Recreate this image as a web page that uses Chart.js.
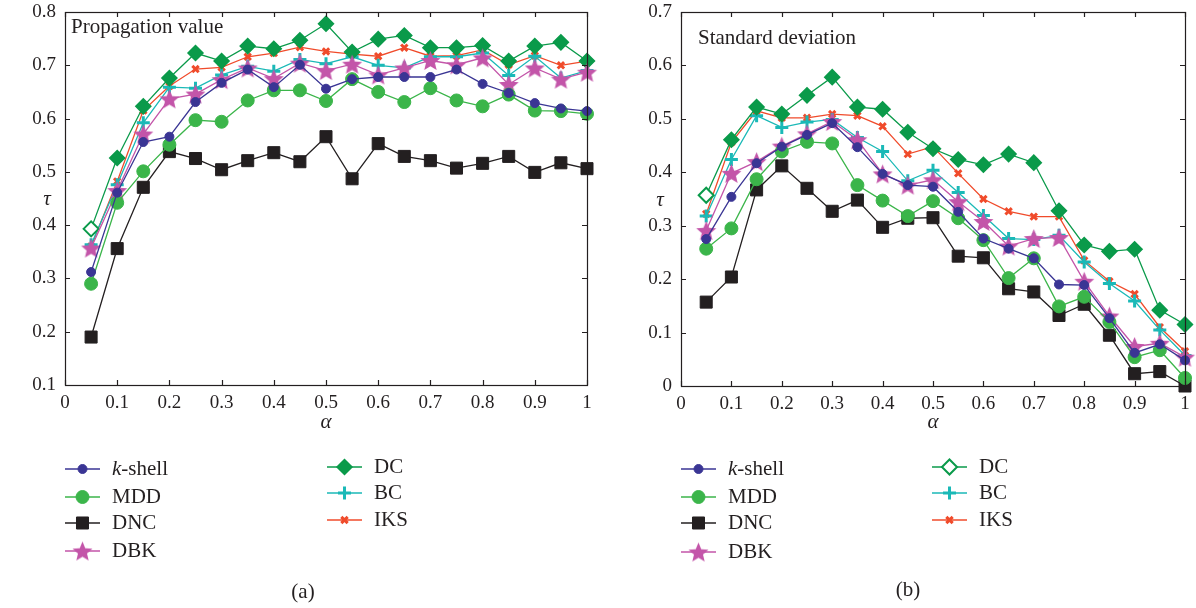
<!DOCTYPE html>
<html>
<head>
<meta charset="utf-8">
<script src="https://cdn.jsdelivr.net/npm/chart.js@4.4.0/dist/chart.umd.min.js"></script>
<style>
  html, body { margin: 0; padding: 0; background: #fff; }
  .box { position: absolute; top: 0; width: 598px; height: 608px; }
</style>
</head>
<body>
<div class="box" style="left:0"><canvas id="chartA"></canvas></div>
<div class="box" style="left:598px"><canvas id="chartB"></canvas></div>
<script>
// x values (alpha)
const alpha = [0.05, 0.1, 0.15, 0.2, 0.25, 0.3, 0.35, 0.4, 0.45, 0.5,
               0.55, 0.6, 0.65, 0.7, 0.75, 0.8, 0.85, 0.9, 0.95, 1.0];
const seriesNames = ['k-shell', 'MDD', 'DNC', 'DBK', 'DC', 'BC', 'IKS'];

// (a) propagation value
const propKshell = [0.312, 0.461, 0.556, 0.566, 0.631, 0.667, 0.692, 0.659, 0.701, 0.656, 0.674, 0.678, 0.678, 0.678, 0.692, 0.665, 0.648, 0.629, 0.619, 0.614];
const propMDD    = [0.290, 0.442, 0.501, 0.551, 0.597, 0.594, 0.634, 0.653, 0.653, 0.633, 0.674, 0.650, 0.631, 0.657, 0.634, 0.623, 0.645, 0.615, 0.614, 0.609];
const propDNC    = [0.190, 0.356, 0.471, 0.538, 0.525, 0.504, 0.521, 0.536, 0.519, 0.566, 0.487, 0.553, 0.529, 0.521, 0.507, 0.516, 0.529, 0.499, 0.517, 0.506];
const propDBK    = [0.357, 0.465, 0.571, 0.637, 0.646, 0.673, 0.695, 0.675, 0.704, 0.690, 0.702, 0.682, 0.695, 0.709, 0.701, 0.714, 0.664, 0.695, 0.674, 0.687];
const propDC     = [0.393, 0.526, 0.623, 0.676, 0.723, 0.708, 0.736, 0.731, 0.747, 0.778, 0.725, 0.749, 0.756, 0.733, 0.733, 0.737, 0.708, 0.736, 0.743, 0.708];
const propBC     = [0.363, 0.476, 0.592, 0.659, 0.657, 0.682, 0.698, 0.689, 0.711, 0.703, 0.716, 0.700, 0.695, 0.716, 0.716, 0.723, 0.681, 0.717, 0.676, 0.690];
const propIKS    = [0.360, 0.482, 0.615, 0.661, 0.693, 0.696, 0.716, 0.723, 0.734, 0.726, 0.721, 0.717, 0.733, 0.717, 0.718, 0.729, 0.701, 0.718, 0.700, 0.708];

// (b) standard deviation
const stdKshell = [0.275, 0.354, 0.417, 0.448, 0.470, 0.492, 0.447, 0.397, 0.376, 0.373, 0.326, 0.276, 0.257, 0.239, 0.190, 0.189, 0.127, 0.062, 0.078, 0.048];
const stdMDD    = [0.257, 0.295, 0.387, 0.439, 0.457, 0.454, 0.376, 0.347, 0.318, 0.346, 0.314, 0.273, 0.202, 0.239, 0.149, 0.167, 0.120, 0.054, 0.067, 0.015];
const stdDNC    = [0.157, 0.204, 0.367, 0.412, 0.370, 0.327, 0.348, 0.297, 0.314, 0.315, 0.243, 0.240, 0.182, 0.176, 0.132, 0.153, 0.095, 0.023, 0.027, 0.000];
const stdDBK    = [0.291, 0.398, 0.420, 0.449, 0.472, 0.495, 0.461, 0.397, 0.376, 0.386, 0.345, 0.308, 0.262, 0.276, 0.278, 0.196, 0.131, 0.074, 0.080, 0.054];
const stdDC     = [0.357, 0.461, 0.522, 0.509, 0.544, 0.578, 0.522, 0.518, 0.475, 0.444, 0.424, 0.414, 0.434, 0.418, 0.328, 0.264, 0.252, 0.256, 0.142, 0.115];
const stdBC     = [0.318, 0.424, 0.506, 0.484, 0.494, 0.499, 0.465, 0.439, 0.384, 0.404, 0.362, 0.319, 0.276, 0.274, 0.282, 0.232, 0.192, 0.159, 0.105, 0.057];
const stdIKS    = [0.322, 0.456, 0.515, 0.502, 0.502, 0.509, 0.506, 0.486, 0.434, 0.448, 0.398, 0.350, 0.327, 0.317, 0.317, 0.235, 0.196, 0.172, 0.110, 0.065];

const INK = '#231f20';
const SERIF = '"Liberation Serif", "DejaVu Serif", serif';

// filled five-point star used for DBK
function makeStar(color, r) {
    const s = Math.ceil(r * 2 + 2);
    const c = document.createElement('canvas');
    c.width = s; c.height = s;
    const g = c.getContext('2d');
    g.beginPath();
    for (let i = 0; i < 10; i++) {
        const rr = i % 2 ? r * 0.45 : r;
        const a = -Math.PI / 2 + i * Math.PI / 5;
        g.lineTo(s / 2 + rr * Math.cos(a), s / 2 + 1 + rr * Math.sin(a));
    }
    g.closePath();
    g.fillStyle = color;
    g.fill();
    return c;
}

const styles = [
    { color: '#3a3594', point: 'circle', radius: 4.5, bw: 1 },
    { color: '#3bb54a', point: 'circle', radius: 6.5, bw: 1 },
    { color: INK, point: 'rect', radius: 8.5, bw: 1 },
    { color: '#c355a9', point: makeStar('#c355a9', 10.5), radius: 10, bw: 1 },
    { color: '#0a9a4a', point: 'rectRot', radius: 7.5, bw: 1.5 },
    { color: '#1ab9b7', point: 'cross', radius: 6.5, bw: 3 },
    { color: '#f04b2b', point: 'crossRot', radius: 4.5, bw: 3 }
];

function buildDatasets(list) {
    return list.map((vals, i) => {
        const st = styles[i];
        const bg = vals.map((v, j) => (i === 4 && j === 0) ? '#ffffff' : st.color);
        return {
            label: seriesNames[i],
            data: vals.map((v, j) => ({ x: alpha[j], y: v })),
            borderColor: st.color,
            backgroundColor: st.color,
            borderWidth: 1.3,
            pointStyle: st.point,
            pointRadius: st.radius,
            pointBackgroundColor: bg,
            pointBorderColor: st.color,
            pointBorderWidth: i === 4 ? vals.map((v, j) => j === 0 ? 2 : 1.5) : st.bw,
            tension: 0,
            clip: false
        };
    });
}

// frame, inward ticks, labels, legend, caption
const decor = {
    id: 'decor',
    afterDraw(chart, args, o) {
        const ctx = chart.ctx;
        const a = chart.chartArea;
        const xs = chart.scales.x, ys = chart.scales.y;
        ctx.save();
        ctx.strokeStyle = INK;
        ctx.lineWidth = 1.2;
        ctx.strokeRect(Math.round(a.left) + 0.5, Math.round(a.top) + 0.5,
                       Math.round(a.right - a.left), Math.round(a.bottom - a.top));
        ctx.beginPath();
        xs.ticks.forEach(t => {
            const px = Math.round(xs.getPixelForValue(t.value)) + 0.5;
            ctx.moveTo(px, a.bottom); ctx.lineTo(px, a.bottom - 5);
            ctx.moveTo(px, a.top); ctx.lineTo(px, a.top + 5);
        });
        ys.ticks.forEach(t => {
            const py = Math.round(ys.getPixelForValue(t.value)) + 0.5;
            ctx.moveTo(a.left, py); ctx.lineTo(a.left + 5, py);
            ctx.moveTo(a.right, py); ctx.lineTo(a.right - 5, py);
        });
        ctx.stroke();

        ctx.fillStyle = INK;
        ctx.textBaseline = 'middle';
        ctx.textAlign = 'left';
        ctx.font = '21px ' + SERIF;
        ctx.fillText(o.title, o.titleX, o.titleY);

        ctx.textAlign = 'center';
        ctx.font = 'italic 21px ' + SERIF;
        ctx.fillText('τ', o.tauX, (a.top + a.bottom) / 2 + 1);
        ctx.fillText('α', (a.left + a.right) / 2, o.alphaY);

        ctx.font = '21px ' + SERIF;
        ctx.fillText(o.caption, o.captionX, o.captionY);

        // legend
        chart.data.datasets.forEach((ds, i) => {
            const col = i < 4 ? 0 : 1;
            const row = i < 4 ? i : i - 4;
            const x0 = o.legendX[col];
            const y = o.legendRows[col][row];
            const st = styles[i];
            ctx.strokeStyle = st.color;
            ctx.lineWidth = 1.5;
            ctx.beginPath();
            ctx.moveTo(x0, y); ctx.lineTo(x0 + 35, y);
            ctx.stroke();
            const hollow = (i === 4 && o.hollowDC);
            ctx.fillStyle = hollow ? '#ffffff' : st.color;
            ctx.strokeStyle = st.color;
            ctx.lineWidth = hollow ? 2 : st.bw;
            Chart.helpers.drawPoint(ctx, {
                pointStyle: st.point, radius: st.radius, borderWidth: ctx.lineWidth, rotation: 0
            }, x0 + 17.5, y);
            ctx.fillStyle = INK;
            ctx.textAlign = 'left';
            const tx = x0 + 47;
            if (ds.label === 'k-shell') {
                ctx.font = 'italic 21px ' + SERIF;
                ctx.fillText('k', tx, y);
                const w = ctx.measureText('k').width;
                ctx.font = '21px ' + SERIF;
                ctx.fillText('-shell', tx + w, y);
            } else {
                ctx.font = '21px ' + SERIF;
                ctx.fillText(ds.label, tx, y);
            }
        });
        ctx.restore();
    }
};

function noPad(s) {
    s.paddingTop = 0; s.paddingBottom = 0; s.paddingLeft = 0; s.paddingRight = 0;
}

function makeChart(id, list, yMin, yMax, yWidth, pad, deco) {
    return new Chart(document.getElementById(id), {
        type: 'line',
        data: { datasets: buildDatasets(list) },
        options: {
            responsive: true,
            maintainAspectRatio: false,
            animation: false,
            layout: { padding: pad },
            plugins: { legend: { display: false }, tooltip: { enabled: false }, decor: deco },
            scales: {
                x: {
                    type: 'linear', min: 0, max: 1,
                    grid: { display: false, drawTicks: false },
                    border: { display: false },
                    ticks: {
                        stepSize: 0.1, padding: 7, color: INK, maxRotation: 0,
                        font: { family: SERIF, size: 19 },
                        callback: v => String(Math.round(v * 10) / 10)
                    },
                    afterFit: s => { s.height = 30; noPad(s); }
                },
                y: {
                    min: yMin, max: yMax,
                    grid: { display: false, drawTicks: false },
                    border: { display: false },
                    ticks: {
                        stepSize: 0.1, padding: 9, color: INK,
                        font: { family: SERIF, size: 19 },
                        callback: v => String(Math.round(v * 10) / 10)
                    },
                    afterFit: s => { s.width = yWidth; noPad(s); }
                }
            }
        },
        plugins: [decor]
    });
}

makeChart('chartA', [propKshell, propMDD, propDNC, propDBK, propDC, propBC, propIKS],
    0.1, 0.8, 65, { left: 0, right: 7, top: 12, bottom: 193 }, {
        title: 'Propagation value', titleX: 71, titleY: 27,
        tauX: 47, alphaY: 422, caption: '(a)', captionX: 303, captionY: 592,
        legendX: [65, 327], legendRows: [[469, 497, 523, 551], [467, 493, 520]],
        hollowDC: false
    });

makeChart('chartB', [stdKshell, stdMDD, stdDNC, stdDBK, stdDC, stdBC, stdIKS],
    0, 0.7, 83, { left: 0, right: 10, top: 12, bottom: 192 }, {
        title: 'Standard deviation', titleX: 100, titleY: 38,
        tauX: 62, alphaY: 422, caption: '(b)', captionX: 310, captionY: 590,
        legendX: [83, 334], legendRows: [[469, 497, 523, 552], [467, 493, 520]],
        hollowDC: true
    });
</script>
</body>
</html>
